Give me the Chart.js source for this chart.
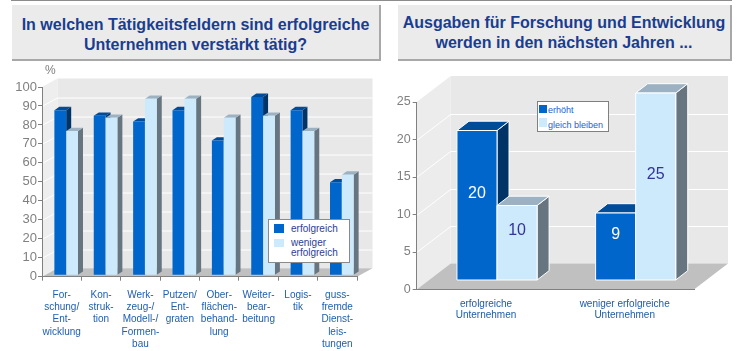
<!DOCTYPE html>
<html><head><meta charset="utf-8">
<script src="https://cdn.jsdelivr.net/npm/chart.js@4.4.1/dist/chart.umd.min.js"></script>
<style>
body{margin:0;width:740px;height:351px;background:#fff;overflow:hidden;position:relative;font-family:"Liberation Sans",Arial,sans-serif;}
.topline{position:absolute;left:11px;top:0;width:721px;height:1px;background:#8c8c8c;}
.tbox{position:absolute;top:5px;background:#ebebeb;border-right:2px solid #a8a8a8;border-bottom:2px solid #a8a8a8;color:#1a3d8f;font-weight:bold;font-size:16px;line-height:20px;text-align:center;white-space:nowrap;}
.wrap{position:absolute;top:62px;height:289px;}
.leg{position:absolute;box-sizing:border-box;background:#fff;border:1px solid #8a8a8a;}
.sw{position:absolute;}
.lt{position:absolute;white-space:nowrap;}
</style></head><body>
<div class="topline"></div>
<div class="tbox" style="left:12px;width:367px;height:44px;padding-top:10px;">In welchen Tätigkeitsfeldern sind erfolgreiche<br>Unternehmen verstärkt tätig?</div>
<div class="tbox" style="left:398px;width:332px;height:46px;padding-top:8px;">Ausgaben für Forschung und Entwicklung<br>werden in den nächsten Jahren ...</div>
<div class="wrap" style="left:0;width:380px;"><canvas id="c1" width="380" height="289"></canvas></div>
<div class="wrap" style="left:380px;width:360px;"><canvas id="c2" width="360" height="289"></canvas></div>
<div style="position:absolute;left:45px;top:63px;font-size:12px;color:#808080;">%</div>

<div class="leg" style="left:268px;top:219px;width:82px;height:44px;">
  <div class="sw" style="left:5px;top:4px;width:10px;height:9px;background:#0066cc;"></div>
  <div class="lt" style="left:22px;top:3px;font-size:10px;line-height:11px;color:#2e3d98;">erfolgreich</div>
  <div class="sw" style="left:5px;top:19px;width:10px;height:8px;background:#cceafc;"></div>
  <div class="lt" style="left:22px;top:18px;font-size:10px;line-height:9.5px;color:#2e3d98;">weniger<br>erfolgreich</div>
</div>
<div class="leg" style="left:537px;top:101px;width:72px;height:31px;border-color:#808080;">
  <div class="sw" style="left:1px;top:3px;width:8px;height:8px;background:#0066cc;"></div>
  <div class="lt" style="left:10px;top:3px;font-size:9px;line-height:10px;color:#1a5fd6;">erhöht</div>
  <div class="sw" style="left:1px;top:16px;width:8px;height:9px;background:#cceafc;"></div>
  <div class="lt" style="left:10px;top:18px;font-size:9px;line-height:10px;color:#1a5fd6;">gleich bleiben</div>
</div>

<script>
// ---- data: left chart ----
const leftCategories = [
  ["For-","schung/","Ent-","wicklung"],
  ["Kon-","struk-","tion"],
  ["Werk-","zeug-/","Modell-/","Formen-","bau"],
  ["Putzen/","Ent-","graten"],
  ["Ober-","flächen-","behand-","lung"],
  ["Weiter-","bear-","beitung"],
  ["Logis-","tik"],
  ["guss-","fremde","Dienst-","leis-","tungen"]
];
const erfolgreich = [87, 84, 81, 87, 71, 94, 87, 49];
const wenigerErfolgreich = [76, 83, 93, 93, 83, 84, 76, 53];
const leftSeriesNames = ["erfolgreich", "weniger erfolgreich"];
const leftTickMin = 0, leftTickMax = 100, leftTickStep = 10;

// ---- data: right chart ----
const rightCategories = [["erfolgreiche","Unternehmen"], ["weniger erfolgreiche","Unternehmen"]];
const erhoeht = [20, 9];
const gleichBleiben = [10, 25];
const rightSeriesNames = ["erhöht", "gleich bleiben"];
const rightTickMin = 0, rightTickMax = 25, rightTickStep = 5;

const FONT = '"Liberation Sans", Arial, sans-serif';
const DARK = {front:'#0066cc', top:'#004c99', side:'#003366'};
const LIGHT = {front:'#cceafc', top:'#9cb2c2', side:'#66757f'};

function poly(ctx, pts, fill, stroke){
  ctx.beginPath();
  ctx.moveTo(pts[0][0], pts[0][1]);
  for (let i=1;i<pts.length;i++) ctx.lineTo(pts[i][0], pts[i][1]);
  ctx.closePath();
  ctx.fillStyle = fill; ctx.fill();
  if (stroke){ ctx.strokeStyle = stroke; ctx.lineWidth = 1; ctx.stroke(); }
}

function make3D(cfg){
  return {
    id: 'threeD',
    beforeDraw(chart){
      const {ctx, chartArea:a, scales} = chart;
      const y = scales.y;
      const L=a.left, R=a.right, T=a.top, B=a.bottom, dx=cfg.dx, dy=cfg.dy;
      ctx.save();
      ctx.fillStyle = cfg.back;
      ctx.fillRect(L+dx, T-dy, R-L, B-T);
      poly(ctx, [[L,T],[L+dx,T-dy],[L+dx,B-dy],[L,B]], cfg.sideWall);
      poly(ctx, [[L,B],[R,B],[R+dx,B-dy],[L+dx,B-dy]], cfg.floor);
      ctx.strokeStyle = '#ffffff'; ctx.lineWidth = 1;
      y.ticks.forEach(t => {
        if (t.value <= y.min || t.value >= y.max) return;
        const py = Math.round(y.getPixelForValue(t.value)) + 0.5;
        ctx.beginPath();
        ctx.moveTo(L, py); ctx.lineTo(L+dx, py-dy); ctx.lineTo(R+dx, py-dy);
        ctx.stroke();
      });
      ctx.restore();
    },
    beforeDatasetDraw(){ return false; },
    afterDatasetsDraw(chart){
      const ctx = chart.ctx;
      const n = chart.data.labels.length;
      const metas = chart.data.datasets.map((d,i)=>chart.getDatasetMeta(i));
      ctx.save();
      for (let j=0;j<n;j++){
        for (let i=0;i<metas.length;i++){
          const el = metas[i].data[j];
          const c = cfg.colors[i];
          const x0 = el.x - el.width/2 + cfg.ox, x1 = el.x + el.width/2 + cfg.ox;
          const yt = el.y - cfg.oy, yb = el.base - cfg.oy;
          const bx = cfg.bdx, by = cfg.bdy;
          const st = cfg.outline;
          poly(ctx, [[x1,yt],[x1+bx,yt-by],[x1+bx,yb-by],[x1,yb]], c.side, st);
          poly(ctx, [[x0,yt],[x0+bx,yt-by],[x1+bx,yt-by],[x1,yt]], c.top, st);
          poly(ctx, [[x0,yt],[x1,yt],[x1,yb],[x0,yb]], c.front, st);
          if (cfg.labels){
            const v = chart.data.datasets[i].data[j];
            ctx.fillStyle = cfg.labelColors[i];
            ctx.font = '16px ' + FONT;
            ctx.textAlign = 'center'; ctx.textBaseline = 'middle';
            ctx.fillText(String(v), (x0+x1)/2, (yt+yb)/2 - 12);
          }
        }
      }
      ctx.restore();
    }
  };
}

Chart.defaults.font.family = FONT;
Chart.defaults.animation = false;

new Chart(document.getElementById('c1'), {
  type: 'bar',
  data: {
    labels: leftCategories,
    datasets: [
      {label: leftSeriesNames[0], data: erfolgreich, backgroundColor: DARK.front},
      {label: leftSeriesNames[1], data: wenigerErfolgreich, backgroundColor: LIGHT.front}
    ]
  },
  options: {
    responsive: false, animation: false,
    categoryPercentage: 0.6, barPercentage: 1.0,
    layout: {padding: {top: 25, right: 23, left: 0, bottom: 0}},
    plugins: {legend: {display: false}, tooltip: {enabled: false}},
    scales: {
      x: {
        grid: {display: true, drawOnChartArea: false, drawTicks: true, tickLength: 4, color: '#808080', offset: true},
        border: {display: true, color: '#808080'},
        ticks: {autoSkip: false, maxRotation: 0, minRotation: 0, padding: 8.5, color: '#2060b0', font: {size: 10, lineHeight: 1.22}},
        afterFit(s){ s.height = 74.3; }
      },
      y: {
        min: leftTickMin, max: leftTickMax,
        grid: {display: true, drawOnChartArea: false, drawTicks: true, tickLength: 4, color: '#808080'},
        border: {display: true, color: '#808080'},
        ticks: {stepSize: leftTickStep, padding: 1, color: '#808080', font: {size: 13}},
        afterFit(s){ s.width = 42; }
      }
    }
  },
  plugins: [make3D({dx: 15.5, dy: 8.5, ox: 4.5, oy: 1.5, bdx: 5, bdy: 3.3,
    back: '#e8e8e8', sideWall: '#eeeeee', floor: '#c0c0c0',
    colors: [DARK, LIGHT], outline: null, labels: false})]
});

new Chart(document.getElementById('c2'), {
  type: 'bar',
  data: {
    labels: rightCategories,
    datasets: [
      {label: rightSeriesNames[0], data: erhoeht, backgroundColor: DARK.front},
      {label: rightSeriesNames[1], data: gleichBleiben, backgroundColor: LIGHT.front}
    ]
  },
  options: {
    responsive: false, animation: false,
    categoryPercentage: 0.578, barPercentage: 1.0,
    layout: {padding: {top: 40, right: 46, left: 0, bottom: 0}},
    plugins: {legend: {display: false}, tooltip: {enabled: false}},
    scales: {
      x: {
        grid: {display: true, drawOnChartArea: false, drawTicks: false, color: '#808080', offset: true},
        border: {display: true, color: '#808080'},
        ticks: {autoSkip: false, maxRotation: 0, minRotation: 0, padding: 8.5, color: '#1f5ba8', font: {size: 10, lineHeight: 1.17}},
        afterFit(s){ s.height = 61.5; }
      },
      y: {
        min: rightTickMin, max: rightTickMax,
        grid: {display: true, drawOnChartArea: false, drawTicks: true, tickLength: 4, color: '#808080'},
        border: {display: true, color: '#808080'},
        ticks: {stepSize: rightTickStep, padding: 2, color: '#808080', font: {size: 12.5}},
        afterFit(s){ s.width = 36.7; }
      }
    }
  },
  plugins: [make3D({dx: 34, dy: 26, ox: 11, oy: 9, bdx: 12, bdy: 9.3,
    back: '#e8e8e8', sideWall: '#ececec', floor: '#c0c0c0',
    colors: [DARK, LIGHT], outline: '#ffffff', labels: true, labelColors: ['#ffffff', '#333399']})]
});
</script>
</body></html>
